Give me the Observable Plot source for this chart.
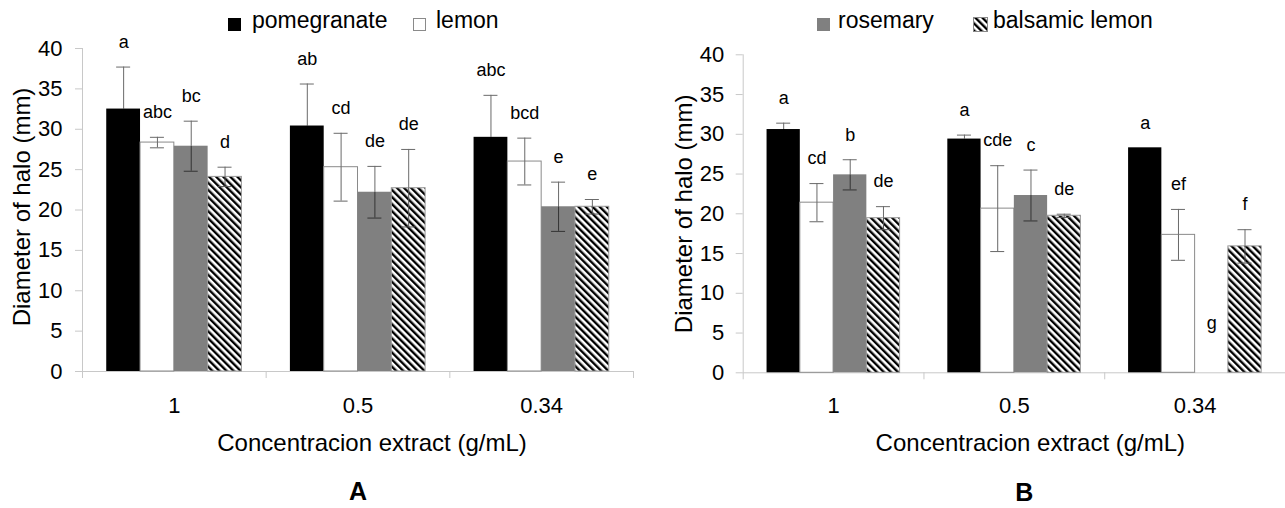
<!DOCTYPE html>
<html>
<head>
<meta charset="utf-8">
<script src="https://cdn.jsdelivr.net/npm/d3@7"></script>
<script src="https://cdn.jsdelivr.net/npm/@observablehq/plot@0.6"></script>
<style>
  body { margin: 0; background: #fff; font-family: "Liberation Sans", Arial, sans-serif; }
  #wrap { position: relative; width: 1285px; height: 508px; overflow: hidden; background: #fff; }
  .panel { position: absolute; top: 40px; }
  .panel svg { overflow: visible; }
  .lg-text { position: absolute; top: 7px; font-size: 23px; line-height: 26px; color: #000; white-space: nowrap; }
  .lg-sw { position: absolute; box-sizing: border-box; }
</style>
</head>
<body>
<svg width="0" height="0" style="position:absolute">
  <defs>
    <pattern id="hatch" patternUnits="userSpaceOnUse" width="5" height="5" patternTransform="rotate(-45)">
      <rect width="5" height="5" fill="#fff"></rect>
      <rect width="2.4" height="5" fill="#000"></rect>
    </pattern>
  </defs>
</svg>
<div id="wrap"></div>
<script>
// ---------------- data ----------------
const concentrations = ["1", "0.5", "0.34"];
const series = ["pomegranate", "lemon", "rosemary", "balsamic lemon"];
const yTicks = [0, 5, 10, 15, 20, 25, 30, 35, 40];

// Panel A: rows = concentration, columns = series
const aMeans  = [[32.5, 28.35, 27.9, 24.1], [30.4, 25.3, 22.2, 22.7], [29.0, 26.0, 20.4, 20.4]];
const aErrors = [[5.2, 0.65, 3.1, 1.2],     [5.2, 4.2, 3.2, 4.8],     [5.2, 2.9, 3.05, 0.9]];
const aLetters = [["a", "abc", "bc", "d"], ["ab", "cd", "de", "de"], ["abc", "bcd", "e", "e"]];

// Panel B
const bMeans  = [[30.6, 21.4, 24.9, 19.45], [29.4, 20.65, 22.3, 19.75], [28.3, 17.35, 0, 15.9]];
const bErrors = [[0.8, 2.4, 1.9, 1.45],     [0.5, 5.4, 3.2, 0.2],      [0, 3.2, 0, 2.1]];
const bLetters = [["a", "cd", "b", "de"], ["a", "cde", "c", "de"], ["a", "ef", "g", "f"]];

const xTitle = "Concentracion extract (g/mL)";
const yTitle = "Diameter of halo (mm)";

// ---------------- styles ----------------
const fills   = {"pomegranate": "#000", "lemon": "#fff", "rosemary": "#808080", "balsamic lemon": "url(#hatch)"};
const strokes = {"pomegranate": "none", "lemon": "#8a8a8a", "rosemary": "none", "balsamic lemon": "#9a9a9a"};
const lowErrColor = {"pomegranate": "#000", "lemon": "#666", "rosemary": "#333", "balsamic lemon": "#555"};
const axisGray = "#c8c8c8";
const font = "'Liberation Sans', Arial, sans-serif";

const slot = d3.scaleBand().domain(series).range([0, 1]).paddingInner(0).paddingOuter(0.717);

function buildRows(means, errors, letters) {
  const rows = [];
  concentrations.forEach((c, gi) => series.forEach((s, si) => {
    const x1 = gi + slot(s);
    rows.push({conc: c, series: s, x1, x2: x1 + slot.bandwidth(), xc: x1 + slot.bandwidth() / 2,
      value: means[gi][si], err: errors[gi][si], letter: letters[gi][si]});
  }));
  return rows;
}

function panel(rows, o) {
  const withErr = rows.filter(d => d.err > 0);
  const marks = [
    Plot.ruleX([0], {y1: 0, y2: 40, stroke: axisGray}),
    Plot.axisY({ticks: yTicks, tickSize: 7, tickPadding: o.tickPadY, stroke: axisGray, fill: "#000", fontSize: 22, label: null}),
    Plot.ruleY([0], {stroke: axisGray}),
    Plot.ruleX(d3.range(concentrations.length + 1), {y1: 0, y2: 0, insetBottom: -7, stroke: axisGray}),
    Plot.axisX({ticks: concentrations.map((_, i) => i + 0.5), tickFormat: t => concentrations[Math.floor(t)],
      tickSize: 0, tickPadding: o.tickPadX, fill: "#000", fontSize: 22, label: null})
  ];
  for (const s of series) {
    const r = rows.filter(d => d.series === s && d.value > 0);
    marks.push(Plot.rect(r, {x1: "x1", x2: "x2", y1: 0, y2: "value", fill: fills[s], stroke: strokes[s], strokeWidth: 1}));
  }
  for (const s of series) {
    const r = withErr.filter(d => d.series === s);
    marks.push(Plot.ruleX(r, {x: "xc", y1: d => d.value - d.err, y2: "value", stroke: lowErrColor[s]}));
    marks.push(Plot.ruleY(r, {y: d => d.value - d.err, x1: "xc", x2: "xc", insetLeft: -7, insetRight: -7, stroke: lowErrColor[s]}));
  }
  marks.push(
    Plot.ruleX(withErr, {x: "xc", y1: "value", y2: d => d.value + d.err, stroke: "#6a6a6a"}),
    Plot.ruleY(withErr, {y: d => d.value + d.err, x1: "xc", x2: "xc", insetLeft: -7, insetRight: -7, stroke: "#6a6a6a"}),
    Plot.text(rows.filter(d => d.value > 0), {x: "xc", y: d => d.value + d.err, text: "letter", dy: -25, fontSize: 18, fill: "#000"}),
    Plot.text(rows.filter(d => d.value === 0), {x: "xc", y: 0, text: "letter", dy: -50, fontSize: 18, fill: "#000"}),
    Plot.text([yTitle], {frameAnchor: "left", textAnchor: "middle", lineAnchor: "middle", rotate: -90, dx: o.yTitleDx, dy: o.yTitleDy, fontSize: 24, fill: "#000"}),
    Plot.text([xTitle], {frameAnchor: "bottom", textAnchor: "middle", lineAnchor: "middle", dx: o.xTitleDx, dy: o.xTitleDy, fontSize: 24, fill: "#000"}),
    Plot.text([o.letter], {frameAnchor: "bottom", textAnchor: "middle", lineAnchor: "middle", dx: o.letterDx, dy: o.letterDy, fontSize: 25, fontWeight: "bold", fill: "#000"})
  );
  return Plot.plot({
    width: o.width, height: 468,
    marginLeft: o.marginLeft, marginRight: o.marginRight, marginTop: o.marginTop, marginBottom: o.marginBottom,
    style: {fontFamily: font, color: "#000", background: "transparent", overflow: "visible"},
    x: {type: "linear", domain: [0, concentrations.length]},
    y: {type: "linear", domain: [0, 40]},
    marks
  });
}

const wrap = document.getElementById("wrap");

const plotA = panel(buildRows(aMeans, aErrors, aLetters), {
  width: 642, marginLeft: 82, marginRight: 9, marginTop: 8, marginBottom: 137,
  tickPadY: 13, tickPadX: 26, yTitleDx: -60, yTitleDy: -3, xTitleDx: 14, xTitleDy: 72, letter: "A", letterDx: 0, letterDy: 120
});
const divA = document.createElement("div");
divA.className = "panel"; divA.style.left = "0px";
divA.appendChild(plotA);
wrap.appendChild(divA);

const plotB = panel(buildRows(bMeans, bErrors, bLetters), {
  width: 643, marginLeft: 100.7, marginRight: 0, marginTop: 14.3, marginBottom: 135.7,
  tickPadY: 12, tickPadX: 25, yTitleDx: -58.7, yTitleDy: 0, xTitleDx: 16, xTitleDy: 70.7, letter: "B", letterDx: 10, letterDy: 119.7
});
const divB = document.createElement("div");
divB.className = "panel"; divB.style.left = "642px";
divB.appendChild(plotB);
wrap.appendChild(divB);

// ---------------- legends ----------------
function swatch(left, top, size, s) {
  const el = document.createElement("div");
  el.className = "lg-sw";
  Object.assign(el.style, {left: left + "px", top: top + "px", width: size + "px", height: size + "px"});
  if (s === "balsamic lemon") {
    el.innerHTML = `<svg width="${size}" height="${size}" style="display:block"><rect x="0.5" y="0.5" width="${size - 1}" height="${size - 1}" fill="url(#hatch)" stroke="#888"/></svg>`;
  } else {
    el.style.background = fills[s];
    if (strokes[s] !== "none") el.style.border = "1px solid " + strokes[s];
  }
  wrap.appendChild(el);
}
function label(left, text) {
  const el = document.createElement("div");
  el.className = "lg-text";
  el.style.left = left + "px";
  el.textContent = text;
  wrap.appendChild(el);
}
swatch(228, 18, 13, series[0]); label(252, series[0]);
swatch(413, 18, 13, series[1]); label(436, series[1]);
swatch(817, 18, 13, series[2]); label(838, series[2]);
swatch(973, 17, 15, series[3]); label(993, series[3]);
</script>
</body>
</html>
